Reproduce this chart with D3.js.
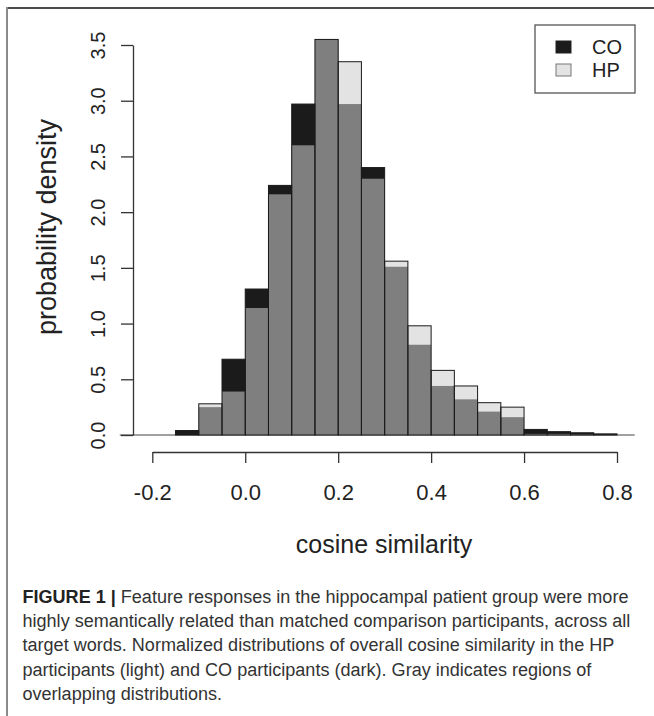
<!DOCTYPE html>
<html>
<head>
<meta charset="utf-8">
<script src="https://cdn.jsdelivr.net/npm/d3@7"></script>
<style>
  body { margin: 0; background: #fff; }
  text { font-family: "Liberation Sans", Arial, sans-serif; }
</style>
</head>
<body>
<div id="chart"></div>
<script>
// left edge of every histogram bin (bin width 0.05)
const binStart = [-0.25, -0.2, -0.15, -0.1, -0.05, 0.0, 0.05, 0.1, 0.15, 0.2, 0.25,
                  0.3, 0.35, 0.4, 0.45, 0.5, 0.55, 0.6, 0.65, 0.7, 0.75];
const binWidth = 0.05;
const coDensity = [0, 0, 0.04, 0.25, 0.68, 1.31, 2.24, 2.97, 3.55, 2.97, 2.40,
                   1.51, 0.81, 0.44, 0.32, 0.21, 0.16, 0.05, 0.03, 0.02, 0.01];
const hpDensity = [0, 0, 0, 0.28, 0.39, 1.14, 2.16, 2.60, 3.55, 3.35, 2.30,
                   1.56, 0.98, 0.58, 0.44, 0.29, 0.25, 0.01, 0.01, 0.005, 0.003];
const xTicks = [-0.2, 0.0, 0.2, 0.4, 0.6, 0.8];
const yTicks = [0, 0.5, 1, 1.5, 2, 2.5, 3, 3.5];
const legendLabels = ["CO", "HP"];
const captionLines = [
  "Feature responses in the hippocampal patient group were more",
  "highly semantically related than matched comparison participants, across all",
  "target words. Normalized distributions of overall cosine similarity in the HP",
  "participants (light) and CO participants (dark). Gray indicates regions of",
  "overlapping distributions."
];

const width = 654;
const height = 716;
const dark = "#1b1b1b";
const light = "#e3e3e3";
const overlap = "#7f7f7f";

const svg = d3.select("#chart")
  .append("svg")
  .attr("width", width)
  .attr("height", height);

// figure frame (top and left rules)
svg.append("line")
  .attr("x1", 6).attr("x2", width).attr("y1", 8).attr("y2", 8)
  .attr("stroke", "#4a4a4a").attr("stroke-width", 2);
svg.append("line")
  .attr("x1", 7).attr("x2", 7).attr("y1", 7).attr("y2", height)
  .attr("stroke", "#8a8a8a").attr("stroke-width", 2);

const xScale = d3.scaleLinear().domain([-0.2, 0.8]).range([152.3, 617]);
const yScale = d3.scaleLinear().domain([0, 3.5]).range([435, 45]);

const bins = binStart.map((s, i) => ({
  x0: s,
  x1: s + binWidth,
  co: coDensity[i],
  hp: hpDensity[i]
}));

// baseline across the plot
svg.append("line")
  .attr("x1", xScale(-0.27)).attr("x2", xScale(0.838))
  .attr("y1", yScale(0)).attr("y2", yScale(0))
  .attr("stroke", "#444").attr("stroke-width", 1.2);

const bars = svg.append("g").attr("id", "bars");

// part of the taller group that sticks out
bars.selectAll("rect.top")
  .data(bins)
  .enter()
  .append("rect")
  .attr("class", "top")
  .attr("x", d => xScale(d.x0))
  .attr("width", d => xScale(d.x1) - xScale(d.x0))
  .attr("y", d => yScale(Math.max(d.co, d.hp)))
  .attr("height", d => yScale(0) - yScale(Math.max(d.co, d.hp)))
  .attr("fill", d => (d.co >= d.hp ? dark : light));

// overlapping region
bars.selectAll("rect.both")
  .data(bins)
  .enter()
  .append("rect")
  .attr("class", "both")
  .attr("x", d => xScale(d.x0))
  .attr("width", d => xScale(d.x1) - xScale(d.x0))
  .attr("y", d => yScale(Math.min(d.co, d.hp)))
  .attr("height", d => yScale(0) - yScale(Math.min(d.co, d.hp)))
  .attr("fill", overlap);

// outlines
bars.selectAll("rect.edge")
  .data(bins.filter(d => Math.max(d.co, d.hp) > 0))
  .enter()
  .append("rect")
  .attr("class", "edge")
  .attr("x", d => xScale(d.x0))
  .attr("width", d => xScale(d.x1) - xScale(d.x0))
  .attr("y", d => yScale(Math.max(d.co, d.hp)))
  .attr("height", d => yScale(0) - yScale(Math.max(d.co, d.hp)))
  .attr("fill", "none")
  .attr("stroke", "#1a1a1a")
  .attr("stroke-width", 1);

// x axis
const xAxis = d3.axisBottom(xScale)
  .tickValues(xTicks)
  .tickSize(11)
  .tickSizeOuter(0)
  .tickPadding(21)
  .tickFormat(d3.format(".1f"));

const gx = svg.append("g")
  .attr("id", "x-axis")
  .attr("transform", "translate(0,452)")
  .call(xAxis);
gx.selectAll("path, line").attr("stroke", "#333").attr("stroke-width", 1.3);
gx.selectAll("text")
  .attr("fill", "#222")
  .style("font-size", "22px")
  .text(d => d3.format(".1f")(d).replace("−", "-"));

// y axis, labels parallel to the axis
const yAxis = d3.axisLeft(yScale)
  .tickValues(yTicks)
  .tickSize(12)
  .tickSizeOuter(0)
  .tickFormat(d3.format(".1f"));

const gy = svg.append("g")
  .attr("id", "y-axis")
  .attr("transform", "translate(133,0)")
  .call(yAxis);
gy.selectAll("path, line").attr("stroke", "#333").attr("stroke-width", 1.3);
gy.selectAll("text")
  .attr("fill", "#222")
  .attr("transform", "rotate(-90)")
  .attr("x", 0)
  .attr("y", -35)
  .attr("dy", "0.36em")
  .attr("text-anchor", "middle")
  .style("font-size", "20px");

// axis titles
svg.append("text")
  .attr("x", 384)
  .attr("y", 553)
  .attr("text-anchor", "middle")
  .attr("fill", "#222")
  .style("font-size", "25px")
  .text("cosine similarity");

svg.append("text")
  .attr("transform", "translate(56,227) rotate(-90)")
  .attr("text-anchor", "middle")
  .attr("fill", "#222")
  .style("font-size", "27px")
  .text("probability density");

// legend
const legend = svg.append("g").attr("id", "legend");
legend.append("rect")
  .attr("x", 535).attr("y", 25)
  .attr("width", 100).attr("height", 68)
  .attr("fill", "#fff")
  .attr("stroke", "#555")
  .attr("stroke-width", 1.3);

const legendY = d3.scalePoint().domain(legendLabels).range([47, 70]);

legend.selectAll("rect.key")
  .data(legendLabels)
  .enter()
  .append("rect")
  .attr("class", "key")
  .attr("x", 556)
  .attr("y", d => legendY(d) - 6)
  .attr("width", 15)
  .attr("height", 12)
  .attr("fill", d => (d === "CO" ? dark : light))
  .attr("stroke", d => (d === "CO" ? "#222" : "#777"))
  .attr("stroke-width", 1);

legend.selectAll("text")
  .data(legendLabels)
  .enter()
  .append("text")
  .attr("x", 592)
  .attr("y", d => legendY(d))
  .attr("dy", "0.36em")
  .attr("fill", "#222")
  .style("font-size", "20px")
  .text(d => d);

// caption
const caption = svg.append("g").attr("id", "caption");
const captionSize = 17;
caption.selectAll("text")
  .data(captionLines)
  .enter()
  .append("text")
  .attr("x", 22.5)
  .attr("y", (d, i) => 603 + i * 24.2)
  .attr("fill", "#333")
  .style("font-size", captionSize + "px")
  .each(function (d, i) {
    const t = d3.select(this);
    if (i === 0) {
      t.append("tspan")
        .attr("font-weight", "bold")
        .attr("fill", "#222")
        .text("FIGURE 1 | ");
    }
    t.append("tspan").text(d);
  });

// shrink the caption so the first line ends where the original does
const first = caption.select("text").node();
const natural = first.getComputedTextLength();
const fit = captionSize * (629 - 22.5) / natural;
caption.selectAll("text").style("font-size", fit + "px");
</script>
</body>
</html>
